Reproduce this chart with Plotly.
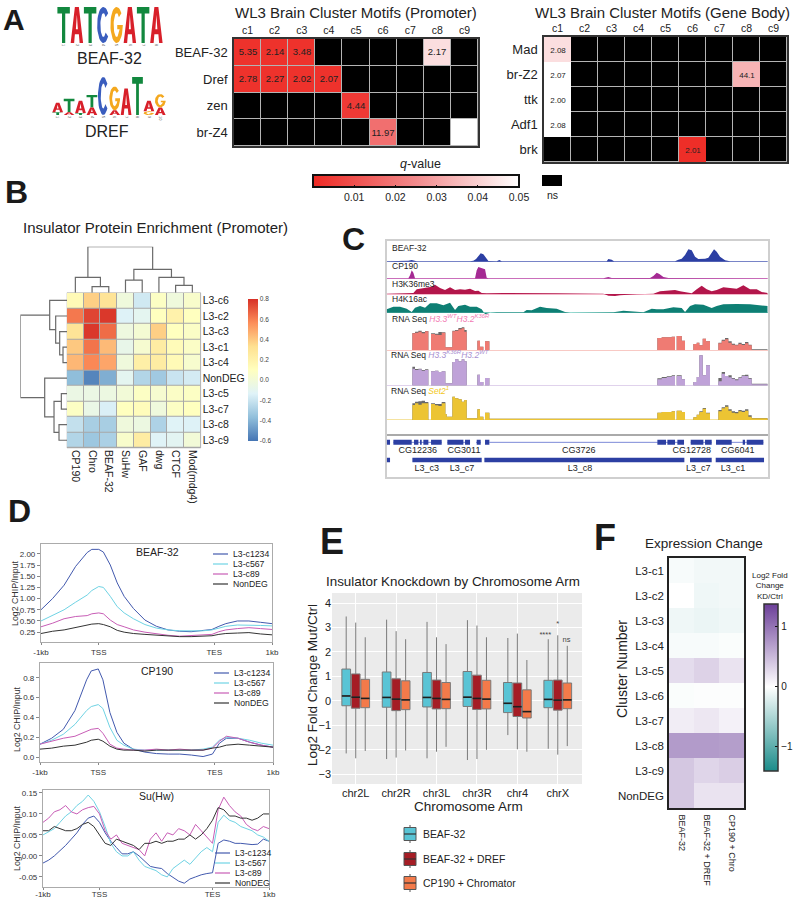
import numpy as np
import plotly.graph_objects as go

W, H = 794, 899
FONT = "Liberation Sans"
INK = "#222222"

# ---------- Panel A data ----------
CLUSTERS = ["c1", "c2", "c3", "c4", "c5", "c6", "c7", "c8", "c9"]
PROM_ROWS = ["BEAF-32", "Dref", "zen", "br-Z4"]
PROM_Q = [[.002, .002, .002, None, None, None, None, .043, None],
          [.002, .002, .002, .002, None, None, None, None, None],
          [None, None, None, None, .004, None, None, None, None],
          [None, None, None, None, None, .018, None, None, .05]]
PROM_TXT = [["5.35", "2.14", "3.48", "", "", "", "", "2.17", ""],
            ["2.78", "2.27", "2.02", "2.07", "", "", "", "", ""],
            ["", "", "", "", "4.44", "", "", "", ""],
            ["", "", "", "", "", "11.97", "", "", ""]]
BODY_ROWS = ["Mad", "br-Z2", "ttk", "Adf1", "brk"]
BODY_Q = [[.043, None, None, None, None, None, None, None, None],
          [.05, None, None, None, None, None, None, .034, None],
          [.05, None, None, None, None, None, None, None, None],
          [.05, None, None, None, None, None, None, None, None],
          [None, None, None, None, None, .001, None, None, None]]
BODY_TXT = [["2.08", "", "", "", "", "", "", "", ""],
            ["2.07", "", "", "", "", "", "", "44.1", ""],
            ["2.00", "", "", "", "", "", "", "", ""],
            ["2.08", "", "", "", "", "", "", "", ""],
            ["", "", "", "", "", "2.01", "", "", ""]]
LOGO_BEAF = [[("T", 1.9)], [("A", 1.9)], [("T", 1.9)], [("C", 1.9)],
             [("G", 1.9)], [("A", 1.9)], [("T", 1.9)], [("A", 1.9)]]
LOGO_DREF = [[("T", .15), ("A", .5)], [("A", .15), ("T", .7)], [("T", .1), ("A", .65)],
             [("A", .4), ("T", .65)], [("C", 2.0)], [("A", .25), ("G", 1.25)],
             [("A", 1.4)], [("T", 2.0)], [("G", .2), ("A", .55)],
             [("A", .4), ("G", .7)]]

# ---------- Panel B data ----------
B_COLS = ["CP190", "Chro", "BEAF-32", "SuHw", "GAF", "dwg", "CTCF", "Mod(mdg4)"]
B_ROWS = ["L3-c6", "L3-c2", "L3-c3", "L3-c1", "L3-c4", "NonDEG", "L3-c5", "L3-c7", "L3-c8", "L3-c9"]
B_Z = [[.14, .38, .30, -.02, -.18, .08, -.02, .05],
       [.62, .75, .78, -.14, -.10, .10, .20, .10],
       [.30, .78, .65, -.03, .02, .38, .10, .07],
       [.40, .63, .44, -.07, .03, .24, .13, .07],
       [.45, .58, .50, -.02, .22, .24, .14, .04],
       [-.37, -.55, -.42, -.10, -.27, -.32, -.20, -.17],
       [-.05, -.05, -.04, .00, .08, .03, .07, .08],
       [.08, -.06, -.15, .10, .12, -.02, .08, .10],
       [-.22, -.30, -.30, -.02, -.04, -.28, -.13, -.14],
       [-.27, -.33, -.29, .05, .24, -.13, -.11, .00]]
# merges: position a, height a, position b, height b, merge height
B_TOP_TREE = [(1.5, 0, 2.5, 0, 18), (.5, 0, 2, 18, 46), (3.5, 0, 4.5, 0, 38),
              (6.5, 0, 7.5, 0, 22), (5.5, 0, 7, 22, 46), (4, 38, 6.25, 46, 70),
              (1.25, 46, 5.125, 70, 138)]
B_LEFT_TREE = [(3.5, 0, 4.5, 0, 12), (2.5, 0, 4, 12, 22), (1.5, 0, 3.25, 22, 34),
               (.5, 0, 2.375, 34, 52), (6.5, 0, 7.5, 0, 17), (8.5, 0, 9.5, 0, 24),
               (7, 17, 9, 24, 39), (5.5, 0, 8, 39, 67), (1.44, 52, 6.75, 67, 140)]

# ---------- Panel C data (position and height in track units) ----------
BEAF_X = [50, 108, 115, 125, 133, 140, 300, 310, 318, 326, 332, 340, 348, 355, 380, 388, 395, 710, 715, 725, 732,
          915, 925, 935, 945, 955, 965, 975, 985, 1005, 1015, 1025, 1032, 1040, 1050, 1065, 1080, 1193]
BEAF_Y = [1, 1, 3, 5, 3, 1, 1, 3, 8, 18, 25, 22, 10, 2, 1, 5, 1, 1, 8, 6, 1,
          1, 6, 9, 20, 37, 34, 15, 8, 9, 12, 28, 37, 30, 15, 4, 1, 1]
CP190_X = [50, 115, 120, 125, 130, 135, 315, 320, 325, 335, 345, 350, 355, 400, 700, 715, 725, 840, 850, 860, 868,
           880, 895, 1193]
CP190_Y = [1, 1, 10, 25, 18, 1, 1, 25, 35, 32, 28, 3, 1, 1, 1, 5, 2, 2, 8, 18, 14, 5, 2, 1]
K36_X = [50, 130, 140, 155, 170, 185, 195, 210, 225, 240, 255, 270, 285, 300, 315, 325, 335, 350, 400, 450, 500, 560,
         700, 715, 735, 750, 800, 850, 870, 885, 900, 915, 930, 945, 965, 980, 995, 1010, 1025, 1040, 1060, 1080,
         1100, 1120, 1140, 1160, 1175, 1193]
K36_Y = [1, 3, 14, 16, 18, 22, 28, 18, 12, 20, 12, 14, 13, 16, 9, 10, 3, 2, 3, 2, 3, 2,
         1, -5, -6, -4, -1, 1, 8, 10, 11, 12, 8, 6, 2, 14, 25, 14, 8, 12, 20, 18,
         16, 26, 14, 14, 6, 3]
K16_X = [50, 70, 90, 110, 125, 135, 150, 165, 180, 200, 220, 240, 255, 265, 285, 300, 320, 335, 345, 360, 380, 400,
         460, 470, 485, 510, 530, 560, 585, 600, 730, 760, 790, 820, 845, 860, 880, 910, 935, 945, 960, 975, 1000,
         1025, 1040, 1060, 1100, 1140, 1193]
K16_Y = [10, 18, 18, 12, 2, 15, 20, 15, 28, 28, 22, 30, 8, 20, 24, 18, 18, 10, -5, 0, 1, 1,
         1, 8, 7, 18, 14, 12, 2, 0, 1, 6, 3, 1, 12, 10, 10, 16, 14, 2, 20, 25, 24,
         14, 20, 25, 26, 25, 20]
RNA_X = [50, 127, 135, 145, 155, 165, 175, 183, 195, 205, 215, 226, 230, 247, 255, 265, 275, 283, 290, 322, 330, 340,
         345, 358, 862, 875, 890, 905, 915, 920, 935, 945, 970, 980, 988, 998, 1008, 1020, 1045, 1055, 1065, 1075,
         1085, 1095, 1105, 1115, 1125, 1135, 1145, 1193]
RNA1_Y = [0, 50, 52, 55, 50, 56, 0, 48, 46, 45, 52, 8, 8, 56, 58, 62, 65, 55, 0, 28, 10, 0,
          26, 0, 36, 38, 38, 40, 0, 42, 28, 0, 18, 22, 14, 34, 26, 0, 20, 28, 32, 22,
          16, 14, 18, 15, 20, 14, 0, 0]
RNA1_CTRL = [0, 51, 55, 58, 54, 57, 0, 50, 49, 54, 53, 8, 8, 58, 60, 66, 68, 60, 0, 28, 10, 0,
             26, 0, 36, 38, 38, 40, 0, 42, 28, 0, 18, 22, 14, 34, 26, 0, 22, 31, 36, 26,
             19, 16, 22, 18, 24, 16, 2, 0]
RNA2_Y = [0, 50, 46, 48, 44, 46, 0, 42, 44, 40, 42, 6, 6, 70, 78, 72, 78, 72, 0, 32, 10, 0,
          22, 0, 18, 22, 25, 28, 0, 28, 18, 0, 10, 25, 90, 30, 60, 0, 12, 35, 28, 24,
          20, 15, 22, 28, 28, 20, 3, 0]
RNA2_CTRL = [0, 56, 49, 50, 46, 48, 0, 42, 44, 40, 42, 6, 6, 70, 78, 72, 78, 72, 0, 32, 10, 0,
             22, 0, 21, 25, 27, 30, 0, 30, 18, 0, 10, 25, 90, 30, 60, 0, 22, 40, 26, 30,
             22, 18, 24, 30, 32, 22, 5, 0]
RNA3_Y = [0, 45, 50, 46, 50, 50, 0, 48, 44, 42, 50, 18, 10, 70, 65, 62, 55, 60, 5, 32, 10, 0,
          22, 4, 22, 24, 24, 26, 0, 28, 24, 0, 8, 16, 24, 34, 20, 0, 26, 35, 40, 28,
          22, 20, 26, 24, 28, 10, 5, 0]
RNA3_CTRL = [0, 50, 55, 56, 58, 54, 0, 50, 48, 48, 54, 18, 10, 70, 65, 62, 55, 60, 5, 32, 10, 0,
             22, 4, 22, 24, 24, 26, 0, 28, 24, 0, 8, 16, 26, 36, 22, 0, 30, 38, 44, 32,
             26, 24, 30, 28, 32, 14, 6, 0]
GENE_LINES = [(70, 215), (232, 300), (318, 332), (358, 862), (862, 942), (962, 1025), (1038, 1180)]
GENE_EXONS = [(50, 60), (70, 125), (132, 145), (150, 155), (160, 175), (183, 215), (232, 280), (285, 300), (320, 332),
              (345, 358), (862, 888), (892, 915), (922, 942), (962, 1000), (1005, 1025), (1038, 1085), (1118, 1125),
              (1130, 1180)]
GENE_NAMES = ["CG12236", "CG3011", "CG3726", "CG12728", "CG6041"]
GENE_POS = [143, 282, 626, 965, 1103]
REGION_SPANS = [(50, 60), (127, 335), (343, 943), (960, 1025), (1037, 1182)]
REGION_NAMES = ["L3_c3", "L3_c7", "L3_c8", "L3_c7", "L3_c1"]
REGION_POS = [170, 276, 630, 985, 1089]

# ---------- Panel D data ----------
PROF_X = [0, 5, 10, 15, 20, 22, 25, 27, 30, 33, 36, 40, 45, 50, 55, 60, 65, 70, 74, 77, 80, 85, 90, 95, 100]
BEAF_1234 = [.75, 1.0, 1.3, 1.72, 2.03, 2.1, 2.1, 2.04, 1.75, 1.35, 1.05, .78, .52, .38, .30, .27, .26, .28, .31, .38, .44, .50, .50, .47, .44]
BEAF_567 = [.50, .62, .75, .92, 1.08, 1.18, 1.27, 1.25, 1.05, .82, .68, .55, .42, .34, .30, .28, .28, .28, .30, .34, .38, .41, .41, .40, .39]
BEAF_89 = [.37, .45, .55, .60, .62, .66, .68, .66, .52, .42, .37, .30, .25, .21, .18, .16, .17, .18, .20, .26, .30, .33, .35, .33, .31]
BEAF_NON = [.22, .27, .30, .35, .40, .43, .44, .42, .37, .29, .25, .22, .20, .18, .17, .15, .15, .16, .17, .20, .22, .23, .24, .21, .19]
CP_1234 = [.13, .19, .28, .47, .78, .87, .89, .78, .45, .25, .14, .08, .05, .035, .03, .03, .02, .005, .03, .14, .19, .19, .15, .12, .10]
CP_567 = [.13, .17, .23, .33, .47, .51, .53, .49, .30, .17, .12, .08, .07, .07, .07, .07, .07, .08, .10, .17, .20, .19, .17, .14, .12]
CP_89 = [.13, .16, .19, .21, .26, .28, .29, .24, .13, .09, .08, .07, .07, .08, .07, .08, .07, .07, .09, .16, .21, .19, .15, .12, .10]
CP_NON = [.08, .09, .11, .12, .15, .17, .18, .16, .11, .08, .07, .07, .06, .07, .07, .07, .07, .07, .09, .10, .12, .13, .12, .11, .10]
SU_X = [0, 2.5, 5, 7.5, 10, 12.5, 15, 17.5, 20, 22.5, 25, 27.5, 30, 32.5, 35, 37.5, 40, 42.5, 45, 47.5, 50,
        52.5, 55, 57.5, 60, 62.5, 65, 67.5, 70, 72.5, 75, 77.5, 80, 82.5, 85, 87.5, 90, 92.5, 95, 97.5, 100]
SU_1234 = [-.017, -.01, .0, .012, .025, .04, .055, .075, .09, .095, .08, .055, .035, .02, .005, .005, .01, .0, -.012, -.025, -.028,
           -.03, -.042, -.05, -.06, -.065, -.055, -.05, -.045, -.042, -.04, .03, .038, .035, .03, .03, .028, .027, .028, .04, .035]
SU_567 = [.05, .058, .065, .08, .095, .105, .12, .13, .145, .13, .105, .07, .03, .01, .0, .0, .01, -.01, -.025, -.03, -.035,
          -.045, -.05, -.03, -.02, -.01, -.02, -.005, .01, .02, .01, .08, .097, .085, .08, .07, .065, .06, .05, .045, .035]
SU_89 = [.08, .09, .105, .11, .12, .105, .10, .11, .115, .118, .10, .06, .04, .05, .03, .025, .02, .015, .0, .04, .055,
         .035, .055, .05, .065, .06, .05, .075, .06, .045, .03, .11, .14, .12, .105, .095, .075, .065, .06, .07, .065]
SU_NON = [.06, .06, .07, .065, .06, .06, .065, .075, .08, .07, .05, .03, .025, .04, .035, .03, .025, .015, .03, .03, .035,
          .03, .035, .035, .04, .04, .05, .04, .05, .065, .085, .115, .11, .095, .095, .09, .09, .085, .09, .10, .10]
SERIES = ["L3-c1234", "L3-c567", "L3-c89", "NonDEG"]
SERIES_COLORS = ["#4259AE", "#6FD3E4", "#C85DB6", "#333333"]

# ---------- Panel E data ----------
ARMS = ["chr2L", "chr2R", "chr3L", "chr3R", "chr4", "chrX"]
KD_NAMES = ["BEAF-32", "BEAF-32 + DREF", "CP190 + Chromator"]
KD_COLORS = ["#59C4D5", "#A51D25", "#F37A4A"]
KD_Q3 = [[1.30, 1.18, 1.16, 1.20, .75, .84], [1.10, .90, .85, 1.05, .73, .85], [.88, .82, .75, .84, .45, .73]]
KD_MED = [[.20, .14, .14, .15, -.10, .06], [.15, .07, .10, .10, -.24, .03], [.10, .04, .06, .07, -.44, .04]]
KD_Q1 = [[-.20, -.26, -.25, -.23, -.48, -.28], [-.30, -.40, -.33, -.35, -.64, -.38], [-.28, -.36, -.32, -.33, -.70, -.32]]
KD_UP = [[3.45, 3.32, 3.23, 3.30, 2.57, 2.52], [3.20, 2.85, 2.60, 3.08, 2.75, 2.68], [2.60, 2.52, 2.32, 2.60, 1.67, 2.25]]
KD_LOW = [[-2.15, -2.38, -2.35, -2.42, -1.40, -1.96], [-2.35, -2.32, -2.08, -2.38, -1.98, -2.20], [-2.05, -2.03, -1.88, -2.00, -2.08, -1.85]]

# ---------- Panel F data ----------
F_COLS = ["BEAF-32", "BEAF-32 + DREF", "CP190 + Chro"]
F_ROWS = ["L3-c1", "L3-c2", "L3-c3", "L3-c4", "L3-c5", "L3-c6", "L3-c7", "L3-c8", "L3-c9", "NonDEG"]
F_Z = [[-.05, -.08, -.08], [.0, -.10, -.08], [-.10, -.12, -.10], [-.05, -.05, -.03], [.25, .32, .20],
       [-.03, -.02, -.02], [.13, .17, .10], [.72, .72, .70], [.40, .30, .35], [.40, .20, .20]]

# ---------- helpers ----------
fig = go.Figure()
layout = {}
annos = []
shapes = []
_n = [0]


def axes(x0, y0, x1, y1, xkw=None, ykw=None):
    _n[0] += 1
    n = _n[0]
    s = "" if n == 1 else str(n)
    base = dict(showgrid=False, zeroline=False, showline=False, ticks="", showticklabels=False, automargin=False,
                fixedrange=True)
    layout[f"xaxis{s}"] = {**base, "domain": [x0 / W, x1 / W], "anchor": f"y{s}", **(xkw or {})}
    layout[f"yaxis{s}"] = {**base, "domain": [1 - y1 / H, 1 - y0 / H], "anchor": f"x{s}", **(ykw or {})}
    return f"x{s}", f"y{s}"


def T(x, y, text, size=10, color=INK, anchor="center", angle=0, bold=False):
    annos.append(dict(x=x / W, y=1 - y / H, xref="paper", yref="paper", text=f"<b>{text}</b>" if bold else text,
                      showarrow=False, xanchor=anchor, yanchor="middle", textangle=angle,
                      font=dict(size=size, color=color, family=FONT)))


def rect(x0, y0, x1, y1, fill, line=None, below=False):
    shapes.append(dict(type="rect", xref="paper", yref="paper", x0=x0 / W, x1=x1 / W, y0=1 - y1 / H, y1=1 - y0 / H,
                       fillcolor=fill, line=line or dict(width=0), layer="below" if below else "above"))


def seg(x0, y0, x1, y1, color, width=1.0):
    shapes.append(dict(type="line", xref="paper", yref="paper", x0=x0 / W, x1=x1 / W, y0=1 - y0 / H, y1=1 - y1 / H,
                       line=dict(color=color, width=width)))


arc_t = np.radians(np.arange(40, 321, 10))
arc_g = np.radians(np.arange(40, 361, 10))
GLYPH = {
    "T": ([0, 1, 1, .63, .63, .37, .37, 0, 0], [1, 1, .82, .82, 0, 0, .82, .82, 1]),
    "A": ([0, .34, .66, 1, .72, .66, .34, .28, 0], [0, 1, 1, 0, 0, .24, .24, 0, 0]),
    "C": (list(.5 + .5 * np.cos(arc_t)) + list(.5 + .24 * np.cos(arc_t[::-1])),
          list(.5 + .5 * np.sin(arc_t)) + list(.5 + .33 * np.sin(arc_t[::-1]))),
    "G": (list(.5 + .5 * np.cos(arc_g)) + [.55, .55, .74] + list(.5 + .24 * np.cos(arc_t[::-1])),
          list(.5 + .5 * np.sin(arc_g)) + [.5, .38, .38] + list(.5 + .33 * np.sin(arc_t[::-1]))),
}
LOGO_COLORS = {"T": "#12883E", "A": "#D8202A", "C": "#3A5DBE", "G": "#F4A81E"}


def draw_logo(stacks, x0, y0, x1, y1):
    n = len(stacks)
    ax, ay = axes(x0, y0, x1, y1,
                  dict(range=[0, n], showticklabels=True, tickvals=[i + .5 for i in range(n)],
                       ticktext=[str(i + 1) for i in range(n)], tickangle=90,
                       tickfont=dict(size=4, color="#555555", family=FONT)),
                  dict(range=[0, 2]))
    paths = {k: ([], []) for k in LOGO_COLORS}
    holes = ([], [])
    for i, st in enumerate(stacks):
        b = 0
        for ch, h in st:
            gx, gy = GLYPH[ch]
            px = paths[ch]
            px[0].extend([i + .03 + .94 * v for v in gx] + [None])
            px[1].extend([b + h * v for v in gy] + [None])
            if ch == "A":
                holes[0].extend([i + .03 + .94 * v for v in (.42, .5, .58, .42)] + [None])
                holes[1].extend([b + h * v for v in (.38, .78, .38, .38)] + [None])
            b += h
    for ch, (xs, ys) in paths.items():
        if xs:
            fig.add_trace(go.Scatter(x=xs, y=ys, mode="lines", fill="toself", fillcolor=LOGO_COLORS[ch],
                                     line=dict(width=0), xaxis=ax, yaxis=ay, showlegend=False, hoverinfo="skip",
                                     name=ch))
    fig.add_trace(go.Scatter(x=holes[0], y=holes[1], mode="lines", fill="toself", fillcolor="white",
                             line=dict(width=0), xaxis=ax, yaxis=ay, showlegend=False, hoverinfo="skip"))


QSCALE = [[0, "#EE2A24"], [.5, "#F28A8C"], [1, "#FFFFFF"]]
BLACK = [[0, "#000000"], [1, "#000000"]]


def motif_heat(rows, qs, txt, x0, y0, x1, y1, bar=False, cell_size=9.5, qgap=1):
    ax, ay = axes(x0, y0, x1, y1,
                  dict(side="top", type="category", showticklabels=True, ticklabelstandoff=-1,
                       tickfont=dict(size=10.5, color=INK, family=FONT), showline=True, mirror=True,
                       linecolor="#333333", linewidth=1.5),
                  dict(type="category", autorange="reversed", showticklabels=True, ticklabelstandoff=2,
                       tickfont=dict(size=13, color=INK, family=FONT), showline=True, mirror=True,
                       linecolor="#333333", linewidth=1.5))
    rect(x0, y0, x1, y1, "#B4B4B4", below=True)
    ns = [[1 if v is None else None for v in r] for r in qs]
    fig.add_trace(go.Heatmap(z=ns, x=CLUSTERS, y=rows, colorscale=BLACK, showscale=False, xgap=1, ygap=1,
                             xaxis=ax, yaxis=ay, hoverinfo="skip"))
    kw = dict(showscale=False)
    if bar:
        kw = dict(showscale=True, colorbar=dict(
            orientation="h", x=313 / W, xanchor="left", y=1 - 175 / H, yanchor="top", xpad=0, ypad=0,
            len=206, lenmode="pixels", thickness=12, outlinecolor="#111111", outlinewidth=2,
            ticks="inside", ticklen=3, tickcolor="#111111", tickvals=[.01, .02, .03, .04, .05],
            ticktext=["0.01", "0.02", "0.03", "0.04", "0.05"], tickfont=dict(size=10.5, color=INK, family=FONT)))
    fig.add_trace(go.Heatmap(z=qs, x=CLUSTERS, y=rows, text=txt, texttemplate="%{text}",
                             textfont=dict(size=cell_size, color="#222222", family=FONT), colorscale=QSCALE, zmin=0,
                             zmax=.05, xgap=qgap, ygap=qgap, xaxis=ax, yaxis=ay, **kw))


# ---------- Panel A ----------
draw_logo(LOGO_BEAF, 57, 5, 163, 43)
draw_logo(LOGO_DREF, 52, 77, 166, 115)
T(109, 59, "BEAF-32", 16)
T(107, 131, "DREF", 16)
motif_heat(PROM_ROWS, PROM_Q, PROM_TXT, 234, 39, 478, 146, bar=True)
motif_heat(BODY_ROWS, BODY_Q, BODY_TXT, 544, 37, 787, 162, cell_size=8, qgap=0)
T(356, 13, "WL3 Brain Cluster Motifs (Promoter)", 15)
T(662, 13, "WL3 Brain Cluster Motifs (Gene Body)", 15)
T(420, 164, "<i>q</i>-value", 12.5)
rect(542, 175, 562, 186, "#000000")
T(552, 195, "ns", 10.5)

# ---------- Panel B ----------
RDYLBU = [[0, "#4575B4"], [1 / 6, "#91BFDB"], [2 / 6, "#E0F3F8"], [.5, "#FFFFBF"], [4 / 6, "#FEE090"],
          [5 / 6, "#FC8D59"], [1, "#D73027"]]
ax, ay = axes(67, 292.7, 200.7, 448,
              dict(type="category", showticklabels=True, tickangle=90, ticklabelstandoff=1,
                   tickfont=dict(size=10.5, color=INK, family=FONT)),
              dict(type="category", autorange="reversed", side="right", showticklabels=True, ticklabelstandoff=1,
                   tickfont=dict(size=10.5, color=INK, family=FONT)))
layout["plot_bgcolor"] = "rgba(0,0,0,0)"
rect(67, 292.7, 200.7, 448, "#A8A8A8", dict(width=.5, color="#A8A8A8"), below=True)
fig.add_trace(go.Heatmap(z=B_Z, x=B_COLS, y=B_ROWS, colorscale=RDYLBU, zmin=-.6, zmax=.8, xgap=1, ygap=1,
                         colorbar=dict(x=248 / W, xanchor="left", y=1 - 299 / H, yanchor="top", xpad=0, ypad=0,
                                       len=142, lenmode="pixels", thickness=10, outlinewidth=0, ticks="",
                                       tickvals=[-.6, -.4, -.2, 0, .2, .4, .6, .8],
                                       ticktext=["-0.6", "-0.4", "-0.2", "0.0", "0.2", "0.4", "0.6", "0.8"],
                                       tickfont=dict(size=6.5, color="#444444", family=FONT)),
                         xaxis=ax, yaxis=ay))


def tree_lines(tree):
    pos, hgt = [], []
    for a, ha, b, hb, h in tree:
        pos += [a, a, b, b, None]
        hgt += [ha, h, h, hb, None]
    return pos, hgt


ax, ay = axes(67, 246.7, 200.7, 292.7, dict(range=[0, 8]), dict(range=[0, 138]))
p, h = tree_lines(B_TOP_TREE)
fig.add_trace(go.Scatter(x=p, y=h, mode="lines", line=dict(color="#6A6A6A", width=1.2), xaxis=ax, yaxis=ay,
                         showlegend=False, hoverinfo="skip", name="column tree"))
ax, ay = axes(20.4, 292.7, 67, 448, dict(range=[140, 0]), dict(range=[10, 0]))
p, h = tree_lines(B_LEFT_TREE)
fig.add_trace(go.Scatter(x=h, y=p, mode="lines", line=dict(color="#6A6A6A", width=1.2), xaxis=ax, yaxis=ay,
                         showlegend=False, hoverinfo="skip", name="row tree"))
T(155, 227, "Insulator Protein Enrichment (Promoter)", 15)

# ---------- Panel C ----------
FX0, FX1 = 386.7, 767.7
ax, ay = axes(FX0, 240.7, FX1, 476.7,
              dict(range=[0, 1], showline=True, mirror=True, linecolor="#CFCFCF", linewidth=2),
              dict(range=[0, 1], showline=True, mirror=True, linecolor="#CFCFCF", linewidth=2))
fig.add_trace(go.Scatter(x=[], y=[], xaxis=ax, yaxis=ay, showlegend=False))


def track(base, top, x, y, color, zero, ctrl=None, step=False):
    ax, ay = axes(FX0, 230 + top / 3, FX1, 230 + (base + 10) / 3, dict(range=[50, 1193]),
                  dict(range=[-10, base - top], zeroline=True, zerolinecolor=zero, zerolinewidth=1))
    shape = "hv" if step else "linear"
    if ctrl is not None:
        fig.add_trace(go.Scatter(x=x, y=ctrl, mode="lines", line=dict(width=0, color="#666666", shape=shape),
                                 fill="tozeroy", fillcolor="#6A6A6A", xaxis=ax, yaxis=ay, showlegend=False,
                                 hoverinfo="skip"))
    fig.add_trace(go.Scatter(x=x, y=y, mode="lines", line=dict(width=0, color=color, shape=shape),
                             fill="tozeroy", fillcolor=color, xaxis=ax, yaxis=ay, showlegend=False, hoverinfo="skip"))


track(95, 40, BEAF_X, BEAF_Y, "#2C3FA3", "#C4CBEA")
track(146, 96, CP190_X, CP190_Y, "#A52A93", "#EFB5E2")
track(192, 150, K36_X, K36_Y, "#B3164B", "#F4B6C8")
track(248, 196, K16_X, K16_Y, "#0E7F74", "#9ADBD2")
track(360, 270, RNA_X, RNA1_Y, "#EF7B73", "#F8C9C4", RNA1_CTRL, True)
track(466, 370, RNA_X, RNA2_Y, "#BFA2D8", "#E0D2EC", RNA2_CTRL, True)
track(570, 470, RNA_X, RNA3_Y, "#ECC433", "#F5E3A0", RNA3_CTRL, True)

for yz, lab in [(55, "BEAF-32"), (108, "CP190"), (163, "H3K36me3"), (208, "H4K16ac")]:
    T(370 + 60 / 3, 230 + yz / 3, lab, 8.5, anchor="left")
T(370 + 60 / 3, 230 + 265 / 3, 'RNA Seq <span style="color:#F27BB3"><i>H3.3<sup>WT</sup>H3.2<sup>K36R</sup></i></span>', 8.5, anchor="left")
T(370 + 57 / 3, 230 + 374 / 3, 'RNA Seq <span style="color:#A88FD0"><i>H3.3<sup>K36R</sup>H3.2<sup>WT</sup></i></span>', 8.5, anchor="left")
T(370 + 58 / 3, 230 + 482 / 3, 'RNA Seq <span style="color:#F2C81E"><i>Set2<sup>1</sup></i></span>', 8.5, anchor="left")

ax, ay = axes(FX0, 230 + 617 / 3, FX1, 476.7,
              dict(range=[50, 1193], side="top", showline=True, linecolor="#AAAAAA", linewidth=1.5),
              dict(range=[740, 617]))
gx, gy = [], []
for a, b in GENE_LINES:
    gx += [a, b, None]
    gy += [637, 637, None]
fig.add_trace(go.Scatter(x=gx, y=gy, mode="lines", line=dict(color="#7C8AD8", width=1), xaxis=ax, yaxis=ay,
                         showlegend=False, hoverinfo="skip", name="introns"))
gx, gy = [], []
for a, b in GENE_EXONS:
    gx += [a, b, None]
    gy += [637, 637, None]
fig.add_trace(go.Scatter(x=gx, y=gy, mode="lines", line=dict(color="#2C3FA3", width=5), xaxis=ax, yaxis=ay,
                         showlegend=False, hoverinfo="skip", name="exons"))
gx, gy = [], []
for a, b in REGION_SPANS:
    gx += [a, b, None]
    gy += [690, 690, None]
fig.add_trace(go.Scatter(x=gx, y=gy, mode="lines", line=dict(color="#2C3FA3", width=4.5), xaxis=ax, yaxis=ay,
                         showlegend=False, hoverinfo="skip", name="regions"))
fig.add_trace(go.Scatter(x=GENE_POS, y=[662] * len(GENE_POS), mode="text", text=GENE_NAMES,
                         textfont=dict(size=9, color=INK, family=FONT), xaxis=ax, yaxis=ay, showlegend=False,
                         hoverinfo="skip", cliponaxis=False))
fig.add_trace(go.Scatter(x=REGION_POS, y=[715] * len(REGION_POS), mode="text", text=REGION_NAMES,
                         textfont=dict(size=9, color=INK, family=FONT), xaxis=ax, yaxis=ay, showlegend=False,
                         hoverinfo="skip", cliponaxis=False))


# ---------- Panel D ----------
def profile(x0, y0, x1, y1, yr, ticks, labels, xs, series, title, ty, leg_y, leg_x, lab_x, lab_y, standoff=0):
    tf = dict(size=8, color="#333333", family=FONT)
    ax, ay = axes(x0, y0, x1, y1,
                  dict(range=[0, 100], tickvals=[0, 25, 75, 100], ticktext=["-1kb", "TSS", "TES", "1kb"],
                       showticklabels=True, ticks="outside", ticklen=2, tickcolor="#888888", tickfont=tf,
                       ticklabelstandoff=standoff, showline=True, mirror=True, linecolor="#ABABAB", linewidth=1.2),
                  dict(range=yr, tickvals=ticks, ticktext=labels, showticklabels=True, ticks="outside", ticklen=3,
                       tickcolor="#888888", tickfont=tf, showline=True, mirror=True, linecolor="#ABABAB",
                       linewidth=1.2))
    for name, col, ys in zip(SERIES, SERIES_COLORS, series):
        fig.add_trace(go.Scatter(x=xs, y=ys, mode="lines", name=name, line=dict(color=col, width=1), xaxis=ax,
                                 yaxis=ay, showlegend=False))
    T(lab_x, lab_y, "Log2 CHIP/Input", 8.8, "#333333", angle=-90)
    T((x0 + x1) / 2 + .5, ty, title, 10.5)
    for yy, name, col in zip(leg_y, SERIES, SERIES_COLORS):
        seg(leg_x, yy, leg_x + 15, yy, col, 1.2)
        T(leg_x + 18, yy, name, 8.7, anchor="left")


profile(41, 544, 272, 642, [.03, 2.22], [.25, .5, .75, 1, 1.25, 1.5, 1.75, 2],
        ["0.25", "0.50", "0.75", "1.00", "1.25", "1.50", "1.75", "2.00"], PROF_X,
        [BEAF_1234, BEAF_567, BEAF_89, BEAF_NON], "BEAF-32", 552, [554, 564, 574, 584], 213, 15, 593)
profile(40, 663, 273, 762, [-.05, .95], [0, .2, .4, .6, .8], ["0.0", "0.2", "0.4", "0.6", "0.8"], PROF_X,
        [CP_1234, CP_567, CP_89, CP_NON], "CP190", 671, [673, 683, 693, 703], 214, 17, 719)
profile(43, 790, 269, 887, [-.074, .157], [-.05, 0, .05, .10, .15], ["-0.05", "0.00", "0.05", "0.10", "0.15"], SU_X,
        [SU_1234, SU_567, SU_89, SU_NON], "Su(Hw)", 796, [853, 863, 873, 883], 215, 17, 838, standoff=-3)

# ---------- Panel E ----------
gt = dict(size=11, color=INK, family=FONT)
ax, ay = axes(332, 593, 582, 784,
              dict(range=[-.587, 5.6], tickvals=list(range(6)), ticktext=ARMS, showticklabels=True, showgrid=True,
                   gridcolor="#FFFFFF", gridwidth=1, tickfont=gt, ticks="", ticklabelstandoff=1),
              dict(range=[-3.4, 4.41], tickvals=[-3, -2, -1, 0, 1, 2, 3, 4], showticklabels=True, showgrid=True,
                   gridcolor="#FFFFFF", gridwidth=1, tickfont=gt, ticks="", ticklabelstandoff=0))
rect(332, 593, 582, 784, "#EBEBEB", below=True)
OFFS = [-.2355, 0, .2355]
for k, (nm, col) in enumerate(zip(KD_NAMES, KD_COLORS)):
    xs = [i + OFFS[k] for i in range(6)]
    fig.add_trace(go.Box(x=xs, q1=KD_Q1[k], median=KD_MED[k], q3=KD_Q3[k], lowerfence=KD_LOW[k], upperfence=KD_UP[k],
                         width=.215, whiskerwidth=0, fillcolor=col, line=dict(color="#7A7A7A", width=1), name=nm,
                         boxpoints=False, xaxis=ax, yaxis=ay, showlegend=False))
    fig.add_trace(go.Scatter(x=xs, y=KD_MED[k], mode="markers", showlegend=False, hoverinfo="skip", xaxis=ax, yaxis=ay,
                             marker=dict(symbol="line-ew", size=6.2, line=dict(width=1.6, color="#1E1E1E"))))
layout["boxmode"] = "overlay"
for yy, nm, col in zip([834, 859, 883], KD_NAMES, KD_COLORS):
    seg(410, yy - 9, 410, yy + 9, "#555555", 1)
    rect(404, yy - 6.5, 416, yy + 6.5, col, dict(width=1, color="#555555"))
    seg(404, yy, 416, yy, "#333333", 1.2)
    T(421, yy, nm, 10.4, anchor="left")
fig.add_trace(go.Scatter(x=[4.69, 5.0, 5.215], y=[2.70, 3.14, 2.48], mode="text", text=["****", "*", "ns"],
                         textfont=dict(size=7.5, color="#444444", family=FONT), xaxis=ax, yaxis=ay, showlegend=False,
                         hoverinfo="skip", name="significance"))
T(453, 581, "Insulator Knockdown by Chromosome Arm", 13.4)
T(468, 806, "Chromosome Arm", 13.5)
T(312, 685, "Log2 Fold Change Mut/Ctrl", 13.5, angle=-90)

# ---------- Panel F ----------
ax, ay = axes(669, 558, 744, 808,
              dict(type="category", showticklabels=True, tickangle=90, ticklabelstandoff=3,
                   tickfont=dict(size=9, color=INK, family=FONT), showline=True, mirror=True, linecolor="#222222",
                   linewidth=1.5),
              dict(type="category", autorange="reversed", showticklabels=True, ticklabelstandoff=1,
                   tickfont=dict(size=11.5, color=INK, family=FONT), showline=True, mirror=True, linecolor="#222222",
                   linewidth=1.5))
fig.add_trace(go.Heatmap(z=F_Z, x=F_COLS, y=F_ROWS, zmin=-1.4, zmax=1.38,
                         colorscale=[[0, "#1B8C8A"], [.5036, "#FFFFFF"], [1, "#6C3F99"]],
                         colorbar=dict(x=764 / W, xanchor="left", y=1 - 604 / H, yanchor="top", xpad=0, ypad=0,
                                       len=167, lenmode="pixels", thickness=14, outlinecolor="#333333", outlinewidth=1.5,
                                       ticks="inside", ticklen=3, tickcolor="#111111", tickvals=[-1, 0, 1],
                                       tickfont=dict(size=10, color=INK, family=FONT)),
                         xaxis=ax, yaxis=ay))
T(704, 543, "Expression Change", 13.5)
T(770, 586, "Log2 Fold<br>Change<br>KD/Ctrl", 8)
T(621.5, 669.5, "Cluster Number", 14, angle=-90)

# ---------- Panel letters ----------
T(14, 19, "A", 30, "#1A1A1A", bold=True)
T(16, 192, "B", 32, "#1A1A1A", bold=True)
T(353, 239, "C", 32, "#1A1A1A", bold=True)
T(19, 511, "D", 32, "#1A1A1A", bold=True)
T(332, 541, "E", 36, "#1A1A1A", bold=True)
T(605, 537, "F", 36, "#1A1A1A", bold=True)

fig.update_layout(width=W, height=H, margin=dict(l=0, r=0, t=0, b=0, autoexpand=False), paper_bgcolor="white",
                  showlegend=False, annotations=annos, shapes=shapes, font=dict(family=FONT, color=INK), **layout)
fig.write_html("out.html", post_script='document.body.style.margin="0";', config={"displayModeBar": False})
